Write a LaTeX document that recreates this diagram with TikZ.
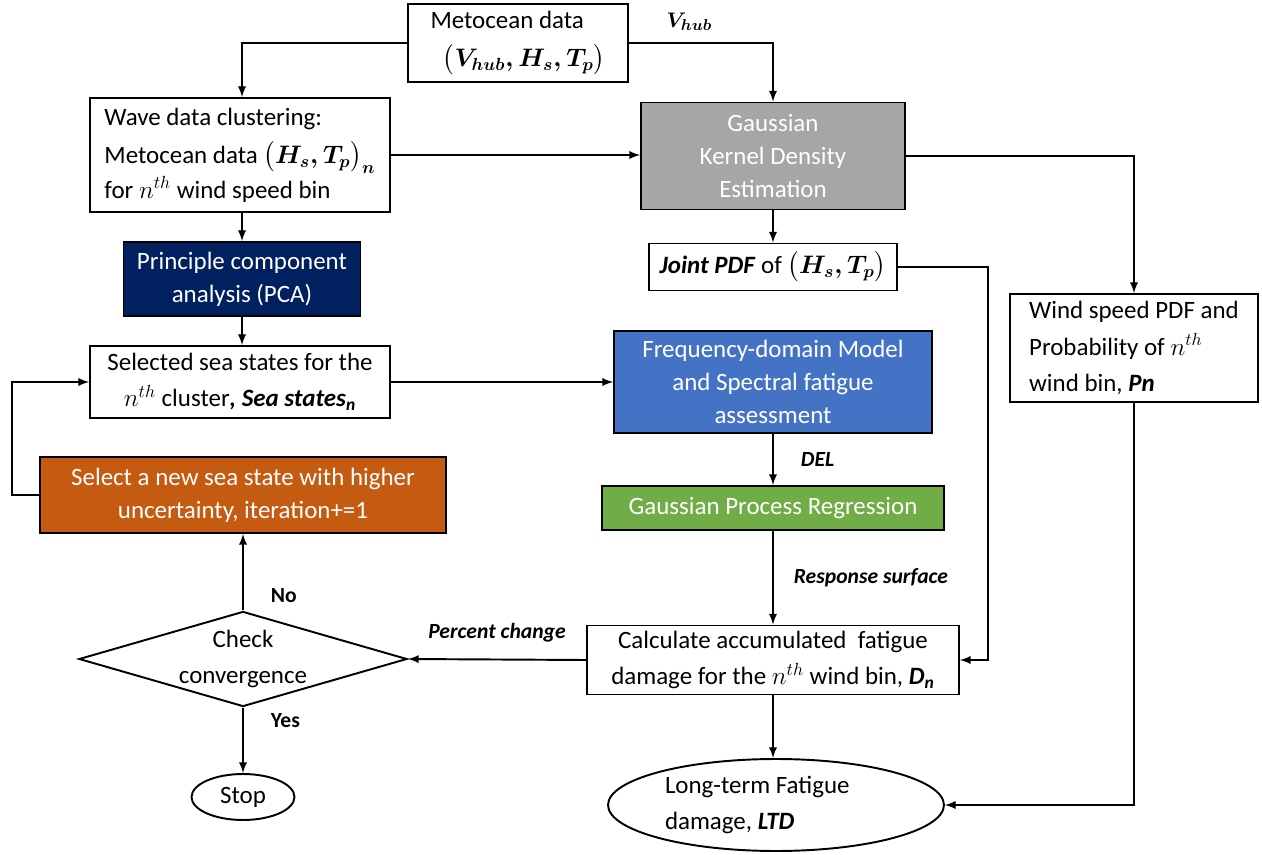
\documentclass[tikz,border=0pt]{standalone}
\usepackage{amsmath}
\usepackage{xcolor}
\usepackage{fontspec}
\setmainfont{Carlito}
\usepackage{tikz}
\usetikzlibrary{shapes.geometric}

\definecolor{kdegray}{HTML}{A6A6A6}
\definecolor{pcanavy}{HTML}{002060}
\definecolor{freqblue}{HTML}{4472C4}
\definecolor{gprgreen}{HTML}{70AD47}
\definecolor{iterorange}{HTML}{C55A11}

\tikzset{
	box/.style={draw, rectangle, align=center, inner sep=1pt, font=\fontsize{14.2}{18.7}\selectfont},
	fillbox/.style={box, fill=#1, text=white},
	lbl/.style={font=\fontsize{12.3}{14}\selectfont\bfseries\itshape},
	yesno/.style={font=\fontsize{12.3}{14}\selectfont\bfseries}
}

\begin{document}
\begin{tikzpicture}[x=0.02cm, y=-0.02cm, line width=1.1pt, >=latex]
			\useasboundingbox (0,0) rectangle (1262,855);
			\node[box, minimum width=4.4cm, minimum height=1.56cm, align=left] at (518,43) (meta){Metocean data\\[3pt]\hspace*{0.5em}$\boldsymbol{\big(V_{hub},H_s,T_p\big)}$};
			\node[box, minimum width=6cm, minimum height=2.28cm, align=left] at (240,155) (wave){Wave data clustering:\\[3pt]Metocean data $\boldsymbol{\big(H_s,T_p\big)_n}$\\[1pt]for $n^{th}$ wind speed bin};
			\node[fillbox=kdegray, minimum width=5.28cm, minimum height=2.14cm] at (773,156) (kde){Gaussian\\Kernel Density\\Estimation};
			\node[box, minimum width=4.96cm, minimum height=0.94cm] at (773,267) (pdf){\textbf{\textit{Joint PDF}} of $\boldsymbol{\big(H_s,T_p\big)}$};
			\node[fillbox=pcanavy, minimum width=4.74cm, minimum height=1.48cm] at (242,279) (pca){Principle component\\analysis (PCA)};
			\node[box, minimum width=6cm, minimum height=1.44cm] at (240,382) (sel){Selected sea states for the\\[2pt]$n^{th}$ cluster\textbf{\textit{, Sea states\textsubscript{n}}}};
			\node[fillbox=freqblue, minimum width=6.36cm, minimum height=2.04cm] at (773,382) (freq){Frequency-domain Model\\and Spectral fatigue\\assessment};
			\node[box, minimum width=4.96cm, minimum height=2.16cm, align=left] at (1134,348) (wind){Wind speed PDF and\\[2pt]Probability of $n^{th}$\\[2pt]wind bin, \textbf{\textit{Pn}}};
			\node[fillbox=iterorange, minimum width=8.12cm, minimum height=1.52cm] at (243,495) (newss){Select a new sea state with higher\\uncertainty, iteration+=1};
			\node[fillbox=gprgreen, minimum width=6.84cm, minimum height=0.88cm] at (773,508) (gpr){Gaussian Process Regression};
			\node[box, diamond, aspect=3.45, inner sep=0pt, minimum width=6.48cm, minimum height=1.88cm] at (243,659) (conv){Check\\[2pt]convergence};
			\node[box, minimum width=7.44cm, minimum height=1.38cm] at (773,660) (calc){Calculate accumulated~ fatigue\\[2pt]damage for the $n^{th}$ wind bin, \textbf{\textit{D\textsubscript{n}}}};
			\node[box, ellipse, inner sep=0pt, minimum width=2.06cm, minimum height=0.92cm] at (243,797) (stop){Stop};
			\node[box, ellipse, inner sep=0pt, align=left, minimum width=6.72cm, minimum height=1.84cm] at (776,805) (ltd){Long-term Fatigue\hspace*{1.5em}\\[2pt]damage, \textbf{\textit{LTD}}};
			\coordinate (pdfturn) at (988,267);
			\coordinate (loopturn) at (12,495);
			\draw[->] (meta.west) -| (pca.north |- wave.north);
			\draw[->] (meta.east) -| node[pos=0.21, above=3pt, lbl]{$\boldsymbol{V_{hub}}$} (kde.north);
			\draw[->] (wave.east) -- (wave.east -| kde.west);
			\draw[->] (kde.east) -| (wind.north);
			\draw[->] (kde.south) -- (pdf.north);
			\draw[->] (pdf.east) -- (pdfturn) |- (calc.east);
			\draw[->] (pca.north |- wave.south) -- (pca.north);
			\draw[->] (pca.south) -- (pca.south |- sel.north);
			\draw[->] (sel.east) -- (freq.west);
			\draw[->] (freq.south) -- node[right=12pt, lbl]{DEL} (gpr.north);
			\draw[->] (gpr.south) -- node[right=8pt, lbl]{Response surface} (calc.north);
			\draw[->] (calc.west) -- node[above=6pt, lbl]{Percent change} (conv.east);
			\draw[->] (conv.north) -- node[pos=0.2, right=12pt, yesno]{No} (newss.south);
			\draw[->] (conv.south) -- node[pos=0.2, right=12pt, yesno]{Yes} (stop.north);
			\draw[->] (newss.west) -- (loopturn) |- (sel.west);
			\draw[->] (calc.south) -- (calc.south |- ltd.north);
			\draw[->] (wind.south) |- (ltd.east);
		\end{tikzpicture}
\end{document}
